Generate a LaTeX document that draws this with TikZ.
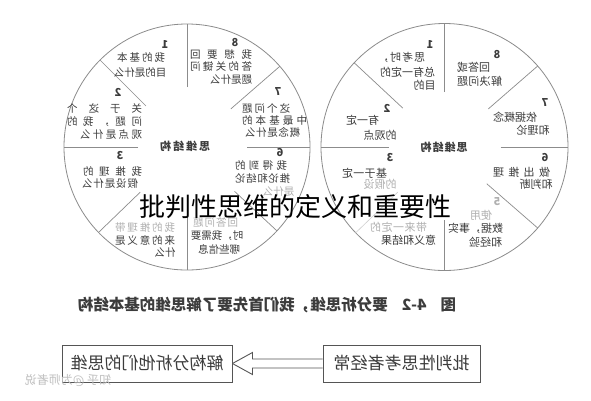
\documentclass[tikz,border=0pt]{standalone}
\usepackage{fontspec}
\usepackage{graphicx}
\setmainfont{Noto Sans CJK SC}
\usetikzlibrary{calc}
\definecolor{txtc}{HTML}{3C3C3C}
\definecolor{fadec}{HTML}{B0B0B0}
\definecolor{linec}{HTML}{8C8C8C}
\definecolor{boxc}{HTML}{555555}
\def\sprA#1#2{#1\ifx\relax#2\expandafter\sprGob\else\hfill\expandafter\sprA\fi#2}
\def\sprGob#1{}
\newcommand\spr[1]{\sprA#1\relax}
\newlength\sprw
\newcommand\sprbox[2]{\settowidth\sprw{#2}\ifdim\sprw<#1pt\sprw=#1pt\fi\makebox[\sprw]{\spr{#2}}}
\newcommand\ML[5][lbl]{\node[#1] (#2) at (#3) {\reflectbox{\sprbox{#4}{#5}}};}
\newcommand\NUM[3][num]{\node[#1] (#2) at (#3) {\reflectbox{#2}};}
\tikzset{
  lbl/.style={inner sep=0pt, text=txtc, font=\fontsize{10.5}{12}\selectfont},
  flbl/.style={lbl, text=fadec},
  rlbl/.style={inner sep=0pt, text=txtc, font=\fontsize{11}{12}\selectfont},
  frlbl/.style={rlbl, text=fadec},
  num/.style={inner sep=0pt, text=txtc, font=\fontsize{11}{12}\selectfont\bfseries},
  fnum/.style={num, text=fadec},
  ctr/.style={inner sep=0pt, text=txtc, font=\fontsize{11}{12}\selectfont\bfseries},
  ring/.style={draw=linec, line width=0.8pt},
  spoke/.style={draw=linec, line width=0.7pt},
  fspoke/.style={draw=fadec!60, line width=0.6pt},
  box/.style={draw=boxc, line width=0.9pt, inner sep=0pt, text=txtc, minimum height=37pt, font=\fontsize{17}{18}\selectfont},
  arr/.style={draw=boxc, line width=0.9pt},
  capt/.style={inner sep=0pt, text=txtc, font=\fontsize{15.5}{17}\selectfont\bfseries},
  wmark/.style={inner sep=0pt, text=black!25, font=\fontsize{12}{13}\selectfont},
  ttl/.style={inner sep=0pt, text=black, font=\fontsize{26}{30}\selectfont}
}
\begin{document}
\begin{tikzpicture}[x=1pt,y=-1pt]
\useasboundingbox[fill=white] (0,0) rectangle (591,400);
% ---------- left circle ----------
\coordinate (lc) at (187,147);
\draw[ring] (lc) circle[radius=123];
\foreach \a/\r in {90/60,135/58,180/49,224/65,270/70,317/65,0/60,41/58}
  \draw[spoke] ($(lc)+(\a:\r pt)$) -- ($(lc)+(\a:123pt)$);
\node[ctr] (lcen) at (185,146) {\reflectbox{\sprbox{50}{思维结构}}};
\node[num] (l1) at (165,45) {\reflectbox{1}};
\ML{l1a}{141,58}{48}{我的基本}
\ML{l1b}{140,72}{50}{目的是什么}
\node[num] (l2) at (118,92) {\reflectbox{2}};
\ML{l2a}{104.5,108}{75}{关于这个}
\ML{l2b}{104.5,122}{75}{问题，我的}
\ML{l2c}{111,135}{62}{观点是什么}
\node[num] (l3) at (120,156) {\reflectbox{3}};
\ML{l3a}{112.5,171}{59}{我推理的}
\ML{l3b}{110,184}{56}{假设是什么}
\ML[flbl]{l4a}{145,227}{60}{我的推理带}
\ML{l4b}{145,240}{60}{来的意义是}
\ML{l4c}{165,253}{0}{什么}
\ML[flbl]{l5a}{215.5,222}{45}{回答问题}
\ML{l5b}{217,236}{45}{时，我需要}
\ML{l5c}{219,249}{38}{哪些信息}
\node[num] (l6) at (280,153) {\reflectbox{6}};
\ML{l6a}{261,165}{52}{我得到的}
\ML{l6b}{262.5,178}{55}{推论和结论}
\ML[flbl]{l6c}{278.5,192}{0}{是什么}
\node[num] (l7) at (278,92) {\reflectbox{7}};
\ML{l7a}{266,108}{48}{这个问题}
\ML{l7b}{274.5,120}{65}{中最基本的}
\ML{l7c}{272.5,132}{55}{概念是什么}
\node[num] (l8) at (235,43) {\reflectbox{8}};
\ML{l8a}{221,55}{62}{我想要回}
\ML{l8b}{221,67}{62}{答的关键问}
\ML{l8c}{231,80}{0}{题是什么}
% ---------- right circle ----------
\coordinate (rc) at (444.5,147);
\draw[ring] (rc) circle[radius=123.5];
\foreach \a/\r in {90/55,137/57,180/56,270/73,319/56,0/56,41/58}
  \draw[spoke] ($(rc)+(\a:\r pt)$) -- ($(rc)+(\a:123.5pt)$);
\draw[fspoke] ($(rc)+(224:65pt)$) -- ($(rc)+(224:123.5pt)$);
\node[ctr] (rcen) at (444,147) {\reflectbox{\sprbox{47}{思维结构}}};
\node[num] (r1) at (430,45) {\reflectbox{1}};
\ML[rlbl]{r1a}{401.5,57}{47}{思考时，}
\ML[rlbl]{r1b}{407.5,72}{55}{总有一定的}
\ML[rlbl]{r1c}{424.5,85}{0}{目的}
\node[num] (r2) at (387,108) {\reflectbox{2}};
\ML[rlbl]{r2a}{362.5,120}{0}{有一定}
\ML[rlbl]{r2b}{380,135}{0}{的观点}
\node[num] (r3) at (390,158) {\reflectbox{3}};
\ML[rlbl]{r3a}{364.5,173}{45}{基于一定}
\ML[frlbl]{r3b}{380,184}{0}{的假设}
\ML[frlbl]{r4a}{398.5,227}{57}{带来一定的}
\ML[rlbl]{r4b}{408.5,240}{53}{意义和结果}
\node[fnum] (r5) at (497,202) {\reflectbox{5}};
\ML[frlbl]{r5a}{481,215}{0}{使用}
\ML[rlbl]{r5b}{475.5,228}{55}{数据，事实}
\ML[rlbl]{r5c}{485.5,242}{0}{和经验}
\node[num] (r6) at (545,157) {\reflectbox{6}};
\ML[rlbl]{r6a}{521.5,172}{57}{做出推理}
\ML[rlbl]{r6b}{536,184}{0}{和判断}
\node[num] (r7) at (545,103) {\reflectbox{7}};
\ML[rlbl]{r7a}{515,117}{44}{依据概念}
\ML[rlbl]{r7b}{533,130}{0}{和理论}
\node[num] (r8) at (497,55) {\reflectbox{8}};
\ML[rlbl]{r8a}{473.5,67}{0}{回答或}
\ML[rlbl]{r8b}{479.5,81}{45}{解决问题}
% ---------- caption ----------
\node[capt] (cap) at (267,305) {\reflectbox{图\hspace{14pt}4-2\hspace{14pt}要分析思维，我们首先要了解思维的基本结构}};
% ---------- boxes and arrow ----------
\node[box, minimum width=170pt] (lb) at (147,363.5) {\reflectbox{解构分析他们的思维}};
\node[box, minimum width=157pt] (rb) at (401.5,363.5) {\reflectbox{批判性思考者经常}};
\draw[arr] (lb.east) -- ++(20,-11) -- ++(0,6.5) -- ($(rb.west)+(0,-4.5)$);
\draw[arr] (lb.east) -- ++(20,11) -- ++(0,-6.5) -- ($(rb.west)+(0,4.5)$);
\node[wmark] (wm) at (68,380) {\reflectbox{知乎 @为师者说}};
% ---------- title overlay ----------
\node[ttl] (title) at (295,207) {批判性思维的定义和重要性};
\end{tikzpicture}
\end{document}
